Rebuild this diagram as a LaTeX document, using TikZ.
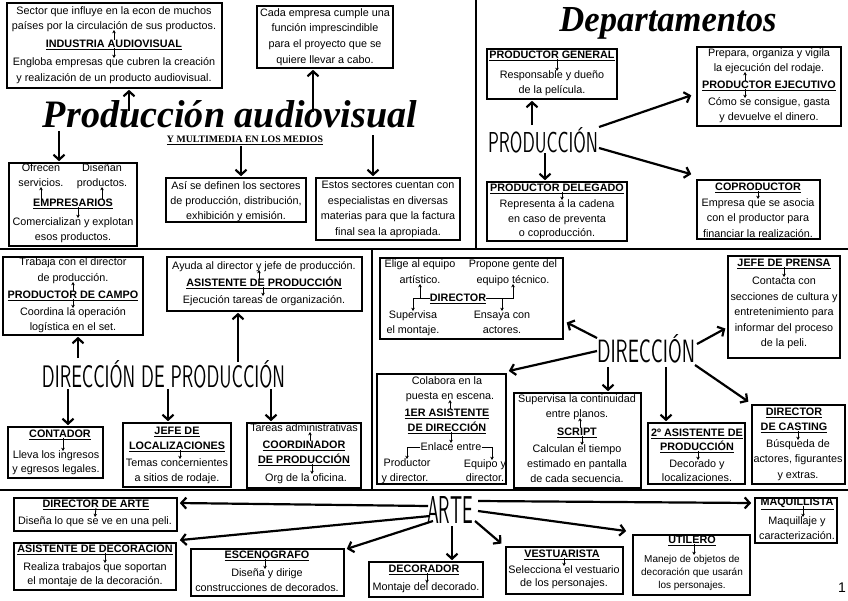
\documentclass[tikz,border=0pt]{standalone}
\usepackage{fontspec}
\setmainfont{Liberation Sans}
\newfontfamily\titf{Liberation Serif}
\usepackage{graphicx}
\usetikzlibrary{arrows.meta}
\tikzset{
 bx/.style={draw,line width=1.6pt,inner sep=0pt},
 tx/.style={inner sep=0pt,text height=7.7pt,text depth=0pt,font=\fontsize{10.8}{13}\selectfont},
 hd/.style={tx,font=\fontsize{10.8}{13}\selectfont\bfseries},
 tu/.style={tx,font=\fontsize{10}{12}\selectfont},
 arr/.style={line width=2.2pt,-{Straight Barb[length=5pt,width=11pt]},shorten >=1pt},
 sar/.style={line width=0.9pt,-{Stealth[length=3.2pt,width=3.6pt]}},
 sep/.style={line width=2.6pt},
 big/.style={inner sep=0pt,anchor=base},
}
\begin{document}
\begin{tikzpicture}[x=1pt,y=-1pt]
\useasboundingbox (0,0) rectangle (848,600);
% dividers
\draw[sep] (0,249) -- (848,249);
\draw[sep] (476,0) -- (476,249);
\draw[sep] (372,249) -- (372,490);
\draw[sep] (0,490) -- (848,490);

% ================= TOP LEFT =================
\node[bx,minimum width=215pt,minimum height=85pt] (ind) at (114.5,45.5) {};
\node[tx] (i1) at (114,11) {Sector que influye en la econ de muchos};
\node[tx] (i2) at (114,26) {países por la circulación de sus productos.};
\node[hd] (i3) at (114,44) {\underline{INDUSTRIA AUDIOVISUAL}};
\node[tx] (i4) at (114,62) {Engloba empresas que cubren la creación};
\node[tx] (i5) at (114,78) {y realización de un producto audiovisual.};
\draw[sar] (i3.north) -- (i2.south);
\draw[sar] (i3.south) -- (i4.north);

\node[bx,minimum width=136pt,minimum height=62pt] (cada) at (325,37) {};
\node[tx] (c1) at (325,13) {Cada empresa cumple una};
\node[tx] (c2) at (325,28) {función imprescindible};
\node[tx] (c3) at (325,44) {para el proyecto que se};
\node[tx] (c4) at (325,60) {quiere llevar a cabo.};

\node[big] (ptit) at (230,127) {\resizebox{374pt}{27pt}{\titf\bfseries\itshape Producción audiovisual}};
\node[inner sep=0pt] (ymul) at (245,140.5) {\resizebox{156pt}{!}{\titf\bfseries\underline{Y MULTIMEDIA EN LOS MEDIOS}}};

\node[bx,minimum width=128pt,minimum height=83pt] (empr) at (73,204.5) {};
\node[tx] (e1) at (41,168) {Ofrecen};
\node[tx] (e2) at (102,168) {Diseñan};
\node[tx] (e3) at (41,183) {servicios.};
\node[tx] (e4) at (102,183) {productos.};
\node[hd] (e5) at (73,203) {\underline{EMPRESARIOS}};
\node[tx] (e6) at (73,222) {Comercializan y explotan};
\node[tx] (e7) at (73,237) {esos productos.};
\draw[sar] (e5.north -| e3.south) -- (e3.south);
\draw[sar] (e5.north -| e4.south) -- (e4.south);
\draw[sar] ([xshift=5pt]e5.south) -- ([xshift=5pt]e6.north);

\node[bx,minimum width=140pt,minimum height=44pt] (asi) at (236,200) {};
\node[tx] (s1) at (236,185.5) {Así se definen los sectores};
\node[tx] (s2) at (236,200.5) {de producción, distribución,};
\node[tx] (s3) at (236,215.5) {exhibición y emisión.};

\node[bx,minimum width=144pt,minimum height=62pt] (estos) at (388,209) {};
\node[tx] (o1) at (388,185) {Estos sectores cuentan con};
\node[tx] (o2) at (388,201) {especialistas en diversas};
\node[tx] (o3) at (388,216) {materias para que la factura};
\node[tx] (o4) at (388,232) {final sea la apropiada.};

\coordinate (pa1) at (129,111);
\draw[arr] (pa1) -- (pa1 |- ind.south);
\coordinate (pa2) at (313,112);
\draw[arr] (pa2) -- (pa2 |- cada.south);
\coordinate (pa3) at (59,131);
\draw[arr] (pa3) -- (pa3 |- empr.north);
\coordinate (pa4) at (241,146);
\draw[arr] (pa4) -- (pa4 |- asi.north);
\coordinate (pa5) at (373,135);
\draw[arr] (pa5) -- (pa5 |- estos.north);

% ================= TOP RIGHT =================
\node[big] (dept) at (668,31) {\resizebox{217pt}{24pt}{\titf\bfseries\itshape Departamentos}};

\node[bx,minimum width=130pt,minimum height=50pt] (pgen) at (552,74) {};
\node[hd] (g1) at (552,55) {\underline{PRODUCTOR GENERAL}};
\node[tx] (g2) at (552,75) {Responsable y dueño};
\node[tx] (g3) at (552,90) {de la película.};
\draw[sar] ([xshift=5pt]g1.south) -- ([xshift=5pt]g2.north);

\node[big] (prodc) at (543,152) {\resizebox{110pt}{25pt}{\sffamily PRODUCCIÓN}};

\node[bx,minimum width=140pt,minimum height=59pt] (pdel) at (557,211.5) {};
\node[hd] (l1) at (557,188) {\underline{PRODUCTOR DELEGADO}};
\node[tx] (l2) at (557,204) {Representa a la cadena};
\node[tx] (l3) at (557,219) {en caso de preventa};
\node[tx] (l4) at (557,233) {o coproducción.};
\draw[sar] ([xshift=5pt]l1.south) -- ([xshift=5pt]l2.north);

\node[bx,minimum width=144pt,minimum height=79pt] (pejec) at (769,86.5) {};
\node[tx] (x1) at (769,53) {Prepara, organiza y vigila};
\node[tx] (x2) at (769,68) {la ejecución del rodaje.};
\node[hd] (x3) at (769,85) {\underline{PRODUCTOR EJECUTIVO}};
\node[tx] (x4) at (769,102) {Cómo se consigue, gasta};
\node[tx] (x5) at (769,117) {y devuelve el dinero.};
\draw[sar] ([xshift=-24pt]x3.north) -- ([xshift=-24pt]x2.south);
\draw[sar] ([xshift=-24pt]x3.south) -- ([xshift=-24pt]x4.north);

\node[bx,minimum width=123pt,minimum height=59pt] (copr) at (758.5,209.5) {};
\node[hd] (k1) at (758,187) {\underline{COPRODUCTOR}};
\node[tx] (k2) at (758,203) {Empresa que se asocia};
\node[tx] (k3) at (758,218) {con el productor para};
\node[tx] (k4) at (758,234) {financiar la realización.};
\draw[sar] (k1.south) -- (k2.north);

\coordinate (pb1) at (532,125);
\draw[arr] (pb1) -- (pb1 |- pgen.south);
\coordinate (pb2) at (545,153);
\draw[arr] (pb2) -- (pb2 |- pdel.north);
\coordinate (pb3) at (599,127);
\draw[arr] (pb3) -- ([shift={(-4,8.5)}]pejec.west);
\coordinate (pb4) at (599,148);
\draw[arr] (pb4) -- ([shift={(-4,-35)}]copr.west);

% ================= MIDDLE LEFT =================
\node[bx,minimum width=140pt,minimum height=78pt] (pcamp) at (73,296) {};
\node[tx] (m1) at (73,262) {Trabaja con el director};
\node[tx] (m2) at (73,278) {de producción.};
\node[hd] (m3) at (73,295) {\underline{PRODUCTOR DE CAMPO}};
\node[tx] (m4) at (73,312) {Coordina la operación};
\node[tx] (m5) at (73,327) {logística en el set.};
\draw[sar] (m3.north) -- (m2.south);
\draw[sar] (m3.south) -- (m4.north);

\node[bx,minimum width=195pt,minimum height=54pt] (aprod) at (264.5,284) {};
\node[tx] (n1) at (264,266) {Ayuda al director y jefe de producción.};
\node[hd] (n2) at (264,283) {\underline{ASISTENTE DE PRODUCCIÓN}};
\node[tx] (n3) at (264,300) {Ejecución tareas de organización.};
\draw[sar] ([xshift=-5pt]n2.north) -- ([xshift=-5pt]n1.south);
\draw[sar] ([xshift=-1pt]n2.south) -- ([xshift=-1pt]n3.north);

\node[big] (dprod) at (163.5,387) {\resizebox{243pt}{27pt}{\sffamily DIRECCIÓN DE PRODUCCIÓN}};

\node[bx,minimum width=95pt,minimum height=51pt] (cont) at (55.5,452.5) {};
\node[hd] (q1) at (60,434) {\underline{CONTADOR}};
\node[tx] (q2) at (56,455) {Lleva los ingresos};
\node[tx] (q3) at (56,469) {y egresos legales.};
\draw[sar] ([xshift=3pt]q1.south) -- ([xshift=7pt]q2.north);

\node[bx,minimum width=108pt,minimum height=64pt] (jloc) at (177,455) {};
\node[hd] (j1) at (177,431) {\underline{JEFE DE}};
\node[hd] (j2) at (177,446) {\underline{LOCALIZACIONES}};
\node[tx] (j3) at (177,463) {Temas concernientes};
\node[tx] (j4) at (177,478) {a sitios de rodaje.};
\draw[sar] ([xshift=3pt]j2.south) -- ([xshift=3pt]j3.north);

\node[bx,minimum width=114pt,minimum height=65pt] (coord) at (304,455.5) {};
\node[tx] (r1) at (304,428) {Tareas administrativas};
\node[hd] (r2) at (304,445) {\underline{COORDINADOR}};
\node[hd] (r3) at (304,460) {\underline{DE PRODUCCIÓN}};
\node[tx] (r4) at (306,478) {Org de la oficina.};
\draw[sar] ([xshift=6pt]r2.north) -- ([xshift=6pt]r1.south);
\draw[sar] ([xshift=8pt]r3.south) -- ([xshift=6pt]r4.north);

\coordinate (pc1) at (78,358);
\draw[arr] (pc1) -- (pc1 |- pcamp.south);
\coordinate (pc2) at (238,362);
\draw[arr] (pc2) -- (pc2 |- aprod.south);
\coordinate (pc3) at (68,389);
\draw[arr] (pc3) -- (pc3 |- cont.north);
\coordinate (pc4) at (168,389);
\draw[arr] (pc4) -- (pc4 |- jloc.north);
\coordinate (pc5) at (271,389);
\draw[arr] (pc5) -- (pc5 |- coord.north);

% ================= MIDDLE RIGHT =================
\node[bx,minimum width=183pt,minimum height=81pt] (dir) at (471.5,298.5) {};
\node[hd] (dt) at (458,298) {\underline{DIRECTOR}};
\node[tx] (d1) at (420,264) {Elige al equipo};
\node[tx] (d2) at (420,280) {artístico.};
\node[tx] (d3) at (513,264) {Propone gente del};
\node[tx] (d4) at (513,280) {equipo técnico.};
\node[tx] (d5) at (413,315) {Supervisa};
\node[tx] (d6) at (413,330) {el montaje.};
\node[tx] (d7) at (502,315) {Ensaya con};
\node[tx] (d8) at (502,330) {actores.};
\draw[sar] (dt.west) -| (d5.north);
\draw[sar] (dt.west -| d2.south) -- (d2.south);
\draw[sar] (dt.east) -| (d4.south);
\draw[sar] (dt.east -| d7.north) -- (d7.north);

\node[big] (dirc) at (646,362) {\resizebox{98pt}{28pt}{\sffamily DIRECCIÓN}};

\node[bx,minimum width=112pt,minimum height=102pt] (jpren) at (784,307) {};
\node[hd] (p1) at (784,263) {\underline{JEFE DE PRENSA}};
\node[tx] (p2) at (784,281) {Contacta con};
\node[tx] (p3) at (784,297) {secciones de cultura y};
\node[tx] (p4) at (784,312) {entretenimiento para};
\node[tx] (p5) at (784,328) {informar del proceso};
\node[tx] (p6) at (784,343) {de la peli.};
\draw[sar] (p1.south) -- (p2.north);

\node[bx,minimum width=129pt,minimum height=110pt] (asis1) at (441.5,429) {};
\node[tx] (a1) at (447,381) {Colabora en la};
\node[tx] (a2) at (450,396) {puesta en escena.};
\node[hd] (a3) at (447,413) {\underline{1ER ASISTENTE}};
\node[hd] (a4) at (447,428) {\underline{DE DIRECCIÓN}};
\node[tx] (a5) at (451,447) {Enlace entre};
\node[tx] (a6) at (407,463) {Productor};
\node[tx] (a7) at (405,478) {y director.};
\node[tx] (a8) at (485,464) {Equipo y};
\node[tx] (a9) at (485,478) {director.};
\draw[sar] ([xshift=3pt]a3.north) -- (a2.south);
\draw[sar] ([xshift=4pt]a4.south) -- (a5.north);
\draw[sar] (a5.west) -| (a6.north);
\draw[sar] (a5.east) -| ([xshift=7pt]a8.north);

\node[bx,minimum width=127pt,minimum height=95pt] (script) at (577.5,440.5) {};
\node[tx] (b1) at (577,399) {Supervisa la continuidad};
\node[tx] (b2) at (577,414) {entre planos.};
\node[hd] (b3) at (577,432) {\underline{SCRIPT}};
\node[tx] (b4) at (577,449) {Calculan el tiempo};
\node[tx] (b5) at (577,464) {estimado en pantalla};
\node[tx] (b6) at (577,479) {de cada secuencia.};
\draw[sar] ([xshift=3pt]b3.north) -- ([xshift=3pt]b2.south);
\draw[sar] ([xshift=5pt]b3.south) -- ([xshift=5pt]b4.north);

\node[bx,minimum width=97pt,minimum height=61pt] (asis2) at (696.5,453.5) {};
\node[hd] (h1) at (697,433) {\underline{2º ASISTENTE DE}};
\node[hd] (h2) at (697,447) {\underline{PRODUCCIÓN}};
\node[tx] (h3) at (697,464) {Decorado y};
\node[tx] (h4) at (697,478) {localizaciones.};
\draw[sar] ([xshift=1pt]h2.south) -- ([xshift=1pt]h3.north);

\node[bx,minimum width=93pt,minimum height=79pt] (cast) at (798.5,444.5) {};
\node[hd] (v1) at (794,412) {\underline{DIRECTOR}};
\node[hd] (v2) at (794,427) {\underline{DE CASTING}};
\node[tx] (v3) at (798,444) {Búsqueda de};
\node[tx] (v4) at (798,459) {actores, figurantes};
\node[tx] (v5) at (798,475) {y extras.};
\draw[sar] ([xshift=4pt]v2.south) -- (v3.north);

\coordinate (pd1) at (597,338);
\draw[arr] (pd1) -- ([shift={(2,23.5)}]dir.east);
\coordinate (pd2) at (697,344);
\draw[arr] (pd2) -- ([shift={(-1,21)}]jpren.west);
\coordinate (pd3) at (597,351);
\draw[arr] (pd3) -- ([shift={(1,-2)}]asis1.north east);
\coordinate (pd4) at (608,367);
\draw[arr] (pd4) -- (pd4 |- script.north);
\coordinate (pd5) at (666,367);
\draw[arr] (pd5) -- (pd5 |- asis2.north);
\coordinate (pd6) at (695,365);
\draw[arr] (pd6) -- ([shift={(-2,-2)}]cast.north west);

% ================= BOTTOM =================
\node[big] (arte) at (450,523) {\resizebox{46pt}{27pt}{\sffamily ARTE}};

\node[bx,minimum width=163pt,minimum height=33pt] (darte) at (95.5,514.5) {};
\node[hd] (u1) at (96,504) {\underline{DIRECTOR DE ARTE}};
\node[tx] (u2) at (95,521) {Diseña lo que se ve en una peli.};
\draw[sar] (u1.south) -- (u2.north);

\node[bx,minimum width=162pt,minimum height=47pt] (asdec) at (95,566.5) {};
\node[hd] (w1) at (95,549) {\underline{ASISTENTE DE DECORACIÓN}};
\node[tx] (w2) at (95,567) {Realiza trabajos que soportan};
\node[tx] (w3) at (95,581) {el montaje de la decoración.};
\draw[sar] ([xshift=10pt]w1.south) -- ([xshift=10pt]w2.north);

\node[bx,minimum width=153pt,minimum height=47pt] (esceno) at (267.5,572.5) {};
\node[hd] (y1) at (267,555) {\underline{ESCENOGRAFO}};
\node[tx] (y2) at (267,573) {Diseña y dirige};
\node[tx] (y3) at (267,588) {construcciones de decorados.};
\draw[sar] ([xshift=-2pt]y1.south) -- ([xshift=-2pt]y2.north);

\node[bx,minimum width=114pt,minimum height=35pt] (decor) at (426,579.5) {};
\node[hd] (z1) at (424,569) {\underline{DECORADOR}};
\node[tx] (z2) at (426,587) {Montaje del decorado.};
\draw[sar] ([xshift=3pt]z1.south) -- ([xshift=1pt]z2.north);

\node[bx,minimum width=117pt,minimum height=47pt] (vest) at (564.5,570.5) {};
\node[hd] (f1) at (562,554) {\underline{VESTUARISTA}};
\node[tx] (f2) at (564,570) {Selecciona el vestuario};
\node[tx] (f3) at (564,583) {de los personajes.};
\draw[sar] ([xshift=2pt]f1.south) -- (f2.north);

\node[bx,minimum width=117pt,minimum height=60pt] (util) at (691.5,565) {};
\node[hd] (t1) at (692,540) {\underline{UTILERO}};
\node[tu] (t2) at (692,559) {Manejo de objetos de};
\node[tu] (t3) at (692,572) {decoración que usarán};
\node[tu] (t4) at (692,585) {los personajes.};
\draw[sar] ([xshift=2pt]t1.south) -- ([xshift=2pt]t2.north);

\node[bx,minimum width=82pt,minimum height=45pt] (maq) at (796,520.5) {};
\node[hd] (q5) at (797,502) {\underline{MAQUILLISTA}};
\node[tx] (q6) at (797,521) {Maquillaje y};
\node[tx] (q7) at (797,536) {caracterización.};
\draw[sar] ([xshift=6pt]q5.south) -- ([xshift=6pt]q6.north);

\coordinate (pe1) at (428,506);
\draw[arr] (pe1) -- ([shift={(1,-11.5)}]darte.east);
\coordinate (pe2) at (430,516);
\draw[arr] (pe2) -- ([shift={(2,-2)}]asdec.north east);
\coordinate (pe3) at (433,521);
\draw[arr] (pe3) -- ([shift={(1,1)}]esceno.north east);
\coordinate (pe4) at (452,526);
\draw[arr] (pe4) -- (pe4 |- decor.north);
\coordinate (pe5) at (475,521);
\draw[arr] (pe5) -- ([shift={(-3,-2)}]vest.north west);
\coordinate (pe6) at (478,511);
\draw[arr] (pe6) -- ([shift={(-5,-3)}]util.north west);
\coordinate (pe7) at (478,501);
\draw[arr] (pe7) -- ([shift={(-2,-17.5)}]maq.west);

\node[inner sep=0pt,font=\fontsize{14}{16}\selectfont] (pgnum) at (842,588) {1};
\end{tikzpicture}
\end{document}
